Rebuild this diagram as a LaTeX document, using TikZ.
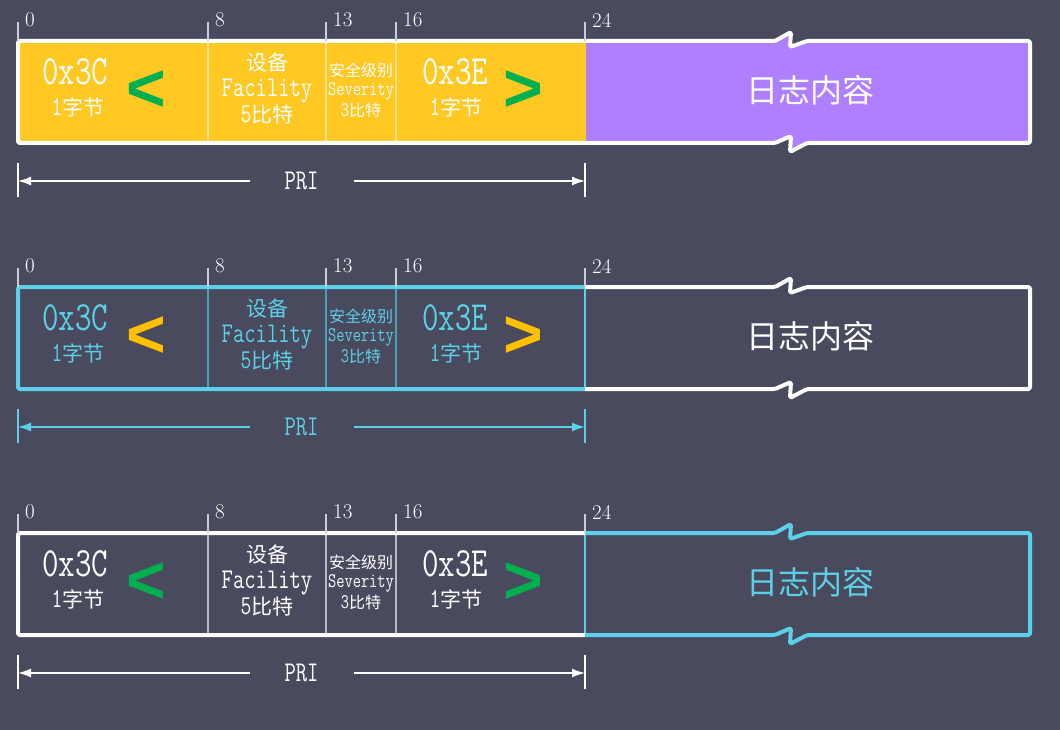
\documentclass[tikz,border=0pt]{standalone}
\usepackage{fontspec}
\usepackage{tikz}
\usetikzlibrary{arrows.meta,positioning}
\newfontfamily\cjk{Noto Sans CJK SC}
\newfontfamily\chevfont{Liberation Sans}
\newcommand{\fsz}[1]{\fontsize{#1}{#1}\selectfont}
\newcommand{\tall}[1]{\scalebox{1}[1.3]{#1}}

\definecolor{bg}{RGB}{74,74,94}
\definecolor{yel}{RGB}{255,200,35}
\definecolor{yeldiv}{RGB}{255,228,140}
\definecolor{lilac}{RGB}{174,128,255}
\definecolor{cyn}{RGB}{91,208,232}
\definecolor{cyndiv}{RGB}{74,160,185}
\definecolor{grn}{RGB}{0,176,80}
\definecolor{org}{RGB}{255,192,0}
\definecolor{grydiv}{RGB}{185,185,195}
\definecolor{tickgray}{RGB}{205,205,212}

\begin{document}
\begin{tikzpicture}[x=1pt,y=-1pt]
\tikzstyle{outline}=[line width=4pt, line join=round, rounded corners=1.5pt]
\tikzstyle{divider}=[line width=1.2pt]
\tikzstyle{tick}=[line width=1.5pt]
\tikzstyle{ticknum}=[anchor=west, inner sep=0pt, font=\fsz{21}, text=white]
\tikzstyle{txt}=[inner sep=0pt]
\tikzstyle{chev}=[inner sep=0pt, font=\chevfont\bfseries\fsz{68}]
\tikzstyle{prline}=[{Latex[length=13pt,width=9pt]}-{Latex[length=13pt,width=9pt]}, line width=1.5pt]
\useasboundingbox (0,0) rectangle (1060,730);
\fill[bg] (0,0) rectangle (1060,730);
\foreach \r/\ty/\lfill/\rfill/\lcol/\rcol/\mcol/\dcol/\tcol/\ccol/\logcol in {
    1/41/yel/lilac/white/white/yel/yeldiv/white/grn/white,
    2/287/bg/bg/cyn/white/cyn/cyndiv/cyn/org/white,
    3/533/bg/bg/white/cyn/cyn/grydiv/white/grn/cyn}
{
    % fields and log part
    \fill[\lfill] (18,\ty) rectangle (585,\ty+102);
    \fill[\rfill] (585,\ty) -- (775,\ty) -- (791,\ty-9) -- (790,\ty+6) -- (807,\ty) -- (1030,\ty)
        -- (1030,\ty+102) -- (807,\ty+102) -- (790,\ty+111) -- (791,\ty+95) -- (775,\ty+102)
        -- (585,\ty+102) -- cycle;
    \foreach \x in {208,326,396}
        \draw[divider,\dcol] (\x,\ty) -- (\x,\ty+102);
    \draw[divider,\mcol] (585,\ty) -- (585,\ty+102);
    \draw[outline,\lcol] (585,\ty) -- (18,\ty) -- (18,\ty+102) -- (585,\ty+102);
    \draw[outline,\rcol] (585,\ty) -- (775,\ty) -- (791,\ty-9) -- (790,\ty+6) -- (807,\ty) -- (1030,\ty)
        -- (1030,\ty+102) -- (807,\ty+102) -- (790,\ty+111) -- (791,\ty+95) -- (775,\ty+102)
        -- (585,\ty+102);
    % bit positions
    \foreach \x/\n in {18/0,208/8,326/13,396/16,585/24}
       {
        \draw[tick,tickgray] (\x,\ty-19) -- (\x,\ty);
        \node[ticknum] (n\r-\n) at (\x+7,\ty-21) {\n};
       }
    % texts
    \node[txt,text=\tcol,font=\ttfamily\fsz{32}] (hexl\r) at (75,\ty+31) {\tall{0x3C}};
    \node[txt,text=\tcol,font=\ttfamily\fsz{21}] (bytel\r) at (78,\ty+66) {\tall{1}{\cjk 字节}};
    \node[chev,text=\ccol] (lt\r) at (146,\ty+50) {<};
    \node[txt,text=\tcol,font=\cjk\fsz{21}] (fac\r) at (267,\ty+22) {设备};
    \node[txt,text=\tcol,font=\ttfamily\fsz{22}] (facn\r) at (267,\ty+50) {\tall{Facility}};
    \node[txt,text=\tcol,font=\ttfamily\fsz{21}] (facb\r) at (267,\ty+74) {\tall{5}{\cjk 比特}};
    \node[txt,text=\tcol,font=\cjk\fsz{16}] (sev\r) at (361,\ty+29) {安全级别};
    \node[txt,text=\tcol,font=\ttfamily\fsz{16}] (sevn\r) at (361,\ty+50) {\tall{Severity}};
    \node[txt,text=\tcol,font=\ttfamily\fsz{16}] (sevb\r) at (361,\ty+69) {\tall{3}{\cjk 比特}};
    \node[txt,text=\tcol,font=\ttfamily\fsz{32}] (hexr\r) at (455,\ty+31) {\tall{0x3E}};
    \node[txt,text=\tcol,font=\ttfamily\fsz{21}] (byter\r) at (456,\ty+66) {\tall{1}{\cjk 字节}};
    \node[chev,text=\ccol] (gt\r) at (523,\ty+50) {>};
    \node[txt,text=\logcol,font=\cjk\fsz{32}] (log\r) at (810,\ty+49) {日志内容};
    % PRI span
    \coordinate (pa\r) at (18,\ty+140);
    \coordinate (pb\r) at (585,\ty+140);
    \draw[tick,\lcol] (18,\ty+122) -- (18,\ty+156);
    \draw[tick,\lcol] (585,\ty+122) -- (585,\ty+156);
    \draw[prline,\lcol] (pa\r) -- node[fill=bg, text=\lcol, font=\ttfamily\fsz{22}, minimum width=104pt] (pri\r) {\tall{PRI}} (pb\r);
}
\end{tikzpicture}
\end{document}
